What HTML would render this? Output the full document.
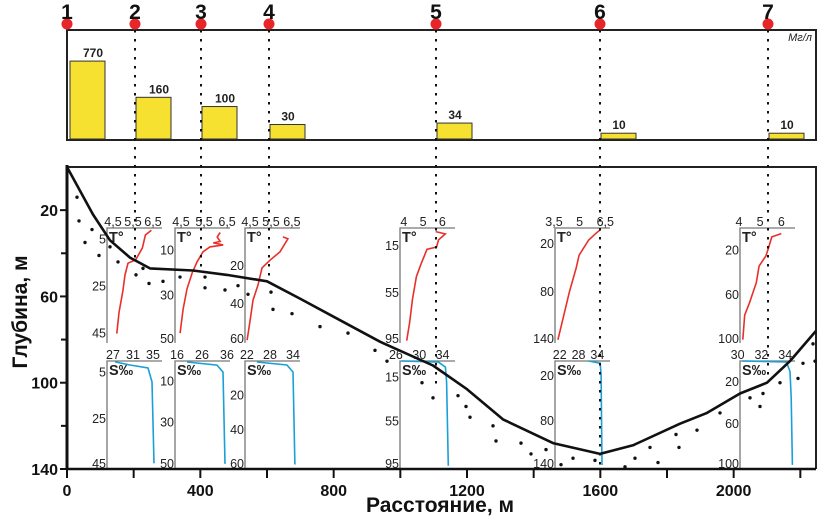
<!DOCTYPE html>
<html><head><meta charset="utf-8"><style>
html,body{margin:0;padding:0;background:#fff;}
svg{display:block;font-family:"Liberation Sans",Arial,sans-serif;}
</style></head><body>
<svg id="c" width="818" height="516" viewBox="0 0 818 516" xmlns="http://www.w3.org/2000/svg"></svg>
<script>
// ---------- data ----------
const stationNames = ["1","2","3","4","5","6","7"];
const stationDist = [0, 204, 402, 606, 1107, 1599, 2103];
const barValues = [770, 160, 100, 30, 34, 10, 10];
const xTicks = [0, 400, 800, 1200, 1600, 2000];
const xMinorTicks = [200, 600, 1000, 1400, 1800, 2200];
const yTicks = [20, 60, 100, 140];
const yMinorTicks = [40, 80, 120];
const bottomDist = [0,78,129,189,249,378,480,600,699,819,939,1098,1200,1308,1458,1599,1698,1839,1920,2019,2100,2169,2247];
const bottomDepth = [0,22,34,42,47,48,50,53,61,71,81,92,103,117,128,133,129,119,114,105,100,90,76];
const dotDist = [30,36,75,54,96,129,153,207,228,246,288,339,414,414,474,513,543,612,618,675,759,843,924,960,1065,1098,1173,1197,1209,1278,1287,1362,1392,1437,1482,1518,1584,1674,1704,1749,1773,1827,1836,1890,1959,2049,2079,2088,2139,2193,2208,2238,2244];
const dotDepth = [14,25,29,35,41,37,44,50,47,54,53,51,51,56,57,55,59,58,66,68,74,77,85,90,100,107,106,111,116,120,127,128,133,131,138,135,136,139,135,130,137,124,130,122,114,107,111,105,100,98,91,82,90];
const tTicks = [["4,5","5,5","6,5"],["4,5","5,5","6,5"],["4,5","5,5","6,5"],["4","5","6"],["3,5","5","6,5"],["4","5","6"]];
const tTickVals = [[4.5,5.5,6.5],[4.5,5.5,6.5],[4.5,5.5,6.5],[4,5,6],[3.5,5,6.5],[4,5,6]];
const tDepthTicks = [[5,25,45],[10,30,50],[20,40,60],[15,55,95],[20,80,140],[20,60,100]];
const tProfileT = [
 [6.42,6.12,5.97,5.63,5.25,5.1,4.99,4.8,4.69],
 [6.2,6.07,6.2,5.9,6.33,5.76,5.46,5.2,4.98,4.76,4.59,4.46],
 [6.07,6.31,5.93,5.45,5.07,4.88,4.64,4.5,4.36],
 [5.65,6.15,5.8,5.7,5.2,4.9,4.65,4.45,4.3,4.15],
 [6.2,5.99,5.53,4.97,4.8,4.4,4.12,3.73],
 [6.0,5.55,5.41,5.27,4.95,4.82,4.5,4.27,4.18]];
const tProfileD = [
 [1,3,8.5,13.6,15,20,27,36,45],
 [2,4,6,6.6,7.5,8.4,10.5,15,20,27,36,46.6],
 [4.7,5.7,12.5,17,21,30,38,49,59],
 [3,5,10,16,18,30,41,60,80,95],
 [2.5,6,15,34,50,80,105,140],
 [5,8,17,25,34,49,67,78,100]];
const sTicks = [[27,31,35],[16,26,36],[22,28,34],[26,30,34],[22,28,34],[30,32,34]];
const sDepthTicks = [[5,25,45],[10,30,50],[20,40,60],[15,55,95],[20,80,140],[20,60,100]];
const sProfileS = [
 [27.4,30.4,34,34.8,35.2],
 [20,32,34.4,35.2],
 [24.6,32.4,34,34.5],
 [27,33.3,34.5,34.7,35],
 [31.2,34.9,35.2,35.5],
 [30.4,34.1,34.4,34.5,34.6]];
const sProfileD = [
 [0.4,1.7,3,9,44],
 [0.5,2,5.4,50],
 [0.6,2.3,6.4,60],
 [0,1,5.5,19,95],
 [0,3,19,139],
 [0,1,10,35,99]];
const insetLeft = [107,175,245,400,555,740];
const tDomain = [[4.2,6.85],[4.24,6.54],[4.26,6.79],[3.8,6.55],[3.56,6.66],[4.05,6.55]];
const tDepthMax = [49,51,60.5,97,144,103];
const sDomain = [[25.8,36.4],[15.2,36.4],[21.5,35.3],[26.7,35.8],[20.5,37.4],[30.2,34.65]];
const sDepthMax = [46,52,62,97,143,102];

// ---------- helpers ----------
const NS="http://www.w3.org/2000/svg";
const svg=document.getElementById('c');
function el(tag,attrs,parent){const e=document.createElementNS(NS,tag);for(const k in attrs)e.setAttribute(k,attrs[k]);(parent||svg).appendChild(e);return e;}
const X0=67,X1=816,Y0=167,Y1=469;
const xs=m=>X0+m/3;
const ys=d=>Y0+d*(Y1-Y0)/140;
const barH=v=>25.9*Math.log(1+v/40);

// ---------- top panel ----------
const topPanel=el('g',{});


const topBox=el('rect',{x:67,y:30,width:749,height:110,fill:'none',stroke:'#222','stroke-width':2},topPanel);


const unitLbl=el('text',{x:812,y:41,'font-size':11,'font-style':'italic','text-anchor':'end',fill:'#222'},topPanel);
unitLbl.textContent='Мг/л';


barValues.forEach((v,i)=>{
  const x=xs(stationDist[i])+(i===0?3:1);
  const h=barH(v);
  const b=el('rect',{x:x,y:139-h,width:35,height:h,fill:'#f6e130',stroke:'#333','stroke-width':1},topPanel);
  
  
  const t=el('text',{x:x+(v>=100?23:18),y:139-h-4,'font-size':12,'font-weight':'bold','text-anchor':'middle',fill:'#222'},topPanel);
  t.textContent=v;
  
  
});

// ---------- main chart frame ----------
const frame=el('path',{d:`M${X0},${Y0}H${X1}V${Y1}`,fill:'none',stroke:'#222','stroke-width':2});



function drawInset(idx,kind){
  const left=insetLeft[idx], right=left+53;
  const isT=kind==='T';
  const yTop=isT?228:361, yBot=isT?343:468;
  const dom=isT?tDomain[idx]:sDomain[idx];
  const dmax=isT?tDepthMax[idx]:sDepthMax[idx];
  const vx=v=>left+(v-dom[0])/(dom[1]-dom[0])*53;
  const dy=d=>yTop+d/dmax*(yBot-yTop);
  const g=el('g',{});
  
  
  const ax=el('path',{d:`M${right+2},${yTop}H${left}V${yBot}`,fill:'none',stroke:'#777','stroke-width':1.3},g);
  
  
  const labs=isT?tTicks[idx]:sTicks[idx];
  const vals=isT?tTickVals[idx]:sTicks[idx];
  labs.forEach((l,k)=>{
    const t=el('text',{x:vx(vals[k]),y:yTop-2,'font-size':12.5,'text-anchor':'middle',fill:'#222'},g);
    t.textContent=l;
    
    
  });
  const dts=isT?tDepthTicks[idx]:sDepthTicks[idx];
  dts.forEach(d=>{
    const t=el('text',{x:left-1,y:Math.min(dy(d)+4,yBot),'font-size':12.5,'text-anchor':'end',fill:'#222'},g);
    t.textContent=d;
    
    
  });
  const lbl=el('text',{x:left+2,y:yTop+14,'font-size':14.5,'font-weight':'bold',fill:'#222'},g);
  lbl.textContent=isT?'T°':'S‰';
  
  
  const pv=isT?tProfileT[idx]:sProfileS[idx];
  const pd=isT?tProfileD[idx]:sProfileD[idx];
  const pts=pv.map((v,k)=>vx(v).toFixed(1)+','+dy(pd[k]).toFixed(1)).join(' ');
  const pl=el('polyline',{points:pts,fill:'none',stroke:isT?'#e8302a':'#1a9fd6','stroke-width':1.6},g);
  
  
}
for(let i=0;i<6;i++){drawInset(i,'T');drawInset(i,'S');}

dotDist.forEach((m,i)=>{
  const c=el('circle',{cx:xs(m),cy:ys(dotDepth[i]),r:1.7,fill:'#111'});
  
  
});
const bp=el('polyline',{points:bottomDist.map((m,i)=>xs(m).toFixed(1)+','+ys(bottomDepth[i]).toFixed(1)).join(' '),fill:'none',stroke:'#111','stroke-width':2.6,'stroke-linejoin':'round'});



function depthAt(m){for(let i=1;i<bottomDist.length;i++){if(m<=bottomDist[i]){const f=(m-bottomDist[i-1])/(bottomDist[i]-bottomDist[i-1]);return bottomDepth[i-1]+f*(bottomDepth[i]-bottomDepth[i-1]);}}return bottomDepth[bottomDepth.length-1];}
stationDist.forEach((m,i)=>{
  const x=xs(m);
  if(i>0){
    const yEnd=i===5?Y1:ys(depthAt(m))+(i===4?20:0);
    const ln=el('line',{x1:x,y1:30,x2:x,y2:yEnd,stroke:'#111','stroke-width':2,'stroke-dasharray':'2.5 6.5'});
    
    
  }
  const c=el('circle',{cx:x,cy:24,r:5.5,fill:'#e8262a'});
  
  
  const t=el('text',{x:x,y:19,'font-size':21,'font-weight':'bold','text-anchor':'middle',fill:'#111'});
  t.textContent=stationNames[i];
  
  
});

const yAxis=el('line',{x1:X0,y1:Y0-2,x2:X0,y2:Y1+1,stroke:'#111','stroke-width':3});


const xAxis=el('line',{x1:X0,y1:Y1,x2:X1,y2:Y1,stroke:'#111','stroke-width':2.5});


yTicks.forEach(d=>{
  const tk=el('line',{x1:X0-7,y1:ys(d),x2:X0,y2:ys(d),stroke:'#111','stroke-width':2});
  
  
  const t=el('text',{x:X0-9,y:ys(d)+6,'font-size':16,'font-weight':'bold','text-anchor':'end',fill:'#111'});
  t.textContent=d;
  
  
});
yMinorTicks.forEach(d=>{
  const tk=el('line',{x1:X0-6,y1:ys(d),x2:X0,y2:ys(d),stroke:'#111','stroke-width':2});
  
  
});
xTicks.forEach(m=>{
  const tk=el('line',{x1:xs(m),y1:Y1,x2:xs(m),y2:Y1+9,stroke:'#111','stroke-width':2});
  
  
  const t=el('text',{x:xs(m),y:Y1+27,'font-size':16,'font-weight':'bold','text-anchor':'middle',fill:'#111'});
  t.textContent=m;
  
  
});
xMinorTicks.forEach(m=>{
  const tk=el('line',{x1:xs(m),y1:Y1,x2:xs(m),y2:Y1+9,stroke:'#111','stroke-width':2});
  
  
});
const xTitle=el('text',{x:440,y:512,'font-size':21,'font-weight':'bold','text-anchor':'middle',fill:'#111'});
xTitle.textContent='Расстояние, м';


const yTitle=el('text',{x:0,y:0,'font-size':21,'font-weight':'bold','text-anchor':'middle',fill:'#111',transform:'translate(27,312) rotate(-90)'});
yTitle.textContent='Глубина, м';


</script>
</body></html>
